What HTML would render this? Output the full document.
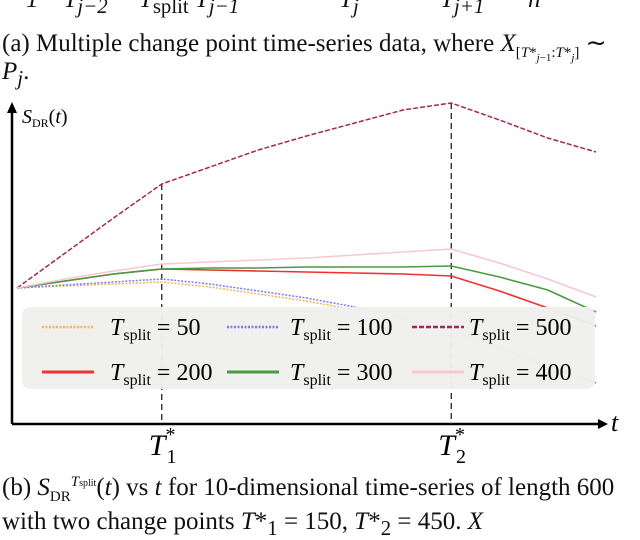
<!DOCTYPE html>
<html><head><meta charset="utf-8"><style>
body{margin:0;width:640px;height:525px;overflow:hidden;background:#fff;font-family:"Liberation Serif",serif;}
svg{position:absolute;left:0;top:0}
.cap{position:absolute;left:2px;font-size:25px;line-height:28px;color:#111;white-space:nowrap}
.cap sub,.cap sup{line-height:0}
</style></head><body>
<div class="cap" style="top:-14px;left:26px;font-style:italic">1&nbsp;&nbsp;&nbsp;&nbsp;T<sub>j−2</sub>&nbsp;&nbsp;&nbsp;&nbsp;&nbsp;T<sub style="font-style:normal">split</sub>&nbsp;T<sub>j−1</sub>&nbsp;&nbsp;&nbsp;&nbsp;&nbsp;&nbsp;&nbsp;&nbsp;&nbsp;&nbsp;&nbsp;&nbsp;&nbsp;&nbsp;&nbsp;&nbsp;T<sub>j</sub>&nbsp;&nbsp;&nbsp;&nbsp;&nbsp;&nbsp;&nbsp;&nbsp;&nbsp;&nbsp;&nbsp;&nbsp;&nbsp;T<sub>j+1</sub>&nbsp;&nbsp;&nbsp;&nbsp;&nbsp;&nbsp;&nbsp;n</div>
<div class="cap" style="top:30px">(a) Multiple change point time-series data, where <i>X</i><sub style="font-size:15px">[<i>T</i>*<sub style="font-size:11px"><i>j</i>−1</sub>:<i>T</i>*<sub style="font-size:11px"><i>j</i></sub>]</sub> ∼</div>
<div class="cap" style="top:58px"><i>P<sub>j</sub></i>.</div>
<div class="cap" style="top:474px">(b) <i>S</i><sub style="font-size:15px">DR</sub><sup style="font-size:15px"><i>T</i><span style="font-size:10px">split</span></sup>(<i>t</i>) vs <i>t</i> for 10-dimensional time-series of length 600</div>
<div class="cap" style="top:508px">with two change points <i>T</i>*<sub>1</sub> = 150, <i>T</i>*<sub>2</sub> = 450. <i>X</i></div>
<svg id="c" width="640" height="525"></svg>
<script>
const tVals=[0,50,100,150,200,250,300,350,400,450,500,550,600];
const s50 =[0,2,4,6,1,-6,-13,-22,-32,-45,-62,-80,-95];
const s100=[0,3,6,9,4,-3,-10,-19,-30,-42,-59,-78,-95];
const s500=[0,35,70,104,121,138,152,165,178,185,168,150,136];
const s200=[0,7,14,19,18,17,16,15,14,12,-3,-20,-38];
const s300=[0,7,14,19,20,20,21,21,21,22,11,-2,-24];
const s400=[0,9,17,24,26,28,30,33,36,39,25,9,-9];
const changePoints=[150,450];
const labels=["50","100","500","200","300","400"];
const NS="http://www.w3.org/2000/svg";
const svg=document.getElementById('c');
const X=t=>17+t*0.965, Y=v=>288-v;
function mk(tag,attrs,parent){const e=document.createElementNS(NS,tag);for(const k in attrs)e.setAttribute(k,attrs[k]);(parent||svg).appendChild(e);return e;}
let ax=mk('line',{x1:12,y1:424,x2:600,y2:424,stroke:'#000','stroke-width':2.5});


let ay=mk('line',{x1:12,y1:424,x2:12,y2:112,stroke:'#000','stroke-width':2.5});


mk('polygon',{points:'598,419 608,424 598,429',fill:'#000'});
mk('polygon',{points:'7,113 12,102 17,113',fill:'#000'});
let tl=mk('text',{x:611,y:431,'font-size':26,'font-style':'italic','font-family':'Liberation Serif'});tl.textContent='t';


let yl=mk('text',{x:22,y:123,'font-size':20,'font-family':'Liberation Serif'});
yl.innerHTML='<tspan font-style="italic">S</tspan><tspan font-size="12" dy="4">DR</tspan><tspan dy="-4">(</tspan><tspan font-style="italic">t</tspan>)';


changePoints.forEach((cp,i)=>{
  const idx=tVals.indexOf(cp);
  const vl=mk('line',{x1:X(cp),y1:Y(s500[idx]),x2:X(cp),y2:424,stroke:'#222','stroke-width':1.3,'stroke-dasharray':'6,4'});
  
  
  const tx=mk('text',{x:X(cp)-13,y:455,'font-size':30,'font-family':'Liberation Serif'});
  tx.innerHTML='<tspan font-style="italic">T</tspan><tspan font-size="20" dy="8" dx="1">'+(i+1)+'</tspan><tspan font-size="20" dy="-22" dx="-11">*</tspan>';
  
  
});
const series=[[s50,'#f7b54a','1.5','2,1.5'],[s100,'#7b7bf5','1.5','2,1.5'],[s500,'#a02a55','1.5','5,2'],[s200,'#f03030','1.6',''],[s300,'#4a9a40','1.6',''],[s400,'#f8c8d0','1.6','']];
series.forEach((s,i)=>{
  const p=mk('polyline',{points:s[0].map((v,j)=>X(tVals[j])+','+Y(v)).join(' '),fill:'none',stroke:s[1],'stroke-width':s[2],'stroke-dasharray':s[3]});
  
  
});
const lg=mk('g',{});


mk('rect',{x:22,y:307,width:573,height:82,rx:8,fill:'#eff0ee',opacity:0.97},lg);
const colX=[42,227,412], textX=[110,290,469], rowY=[327,372];
series.forEach((s,i)=>{
  const r=Math.floor(i/3),c=i%3;
  const e=mk('g',{},lg);
  
  
  mk('line',{x1:colX[c],y1:rowY[r],x2:colX[c]+52,y2:rowY[r],stroke:s[1],'stroke-width':r?3:2.5,'stroke-dasharray':s[3]},e);
  const t=mk('text',{x:textX[c],y:rowY[r]+8,'font-size':24,'font-family':'Liberation Serif'},e);
  t.innerHTML='<tspan font-style="italic">T</tspan><tspan font-size="16" dy="5">split</tspan><tspan dy="-5"> = '+labels[i]+'</tspan>';
});
</script>
</body></html>
